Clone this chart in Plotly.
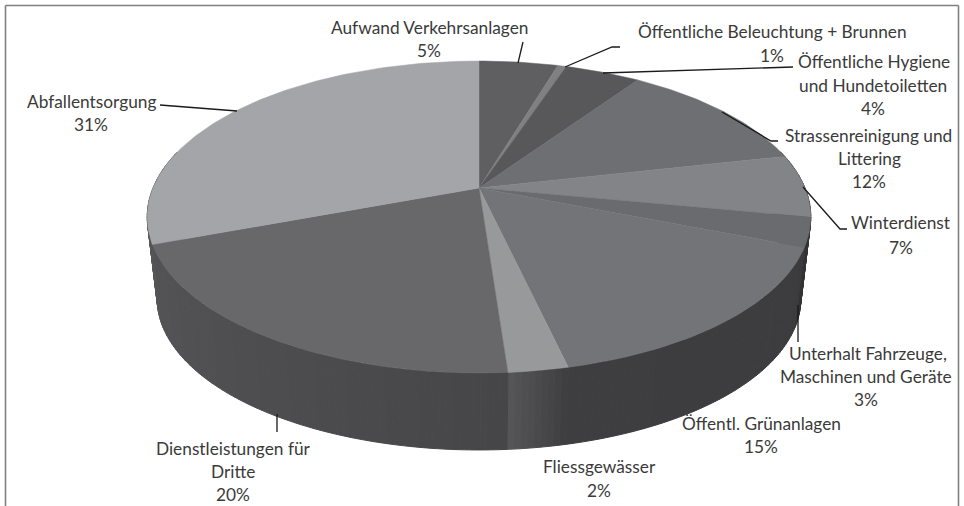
import numpy as np
import plotly.graph_objects as go

categories = ["Aufwand Verkehrsanlagen", "Öffentliche Beleuchtung + Brunnen",
              "Öffentliche Hygiene und Hundetoiletten", "Strassenreinigung und Littering",
              "Winterdienst", "Unterhalt Fahrzeuge, Maschinen und Geräte",
              "Öffentl. Grünanlagen", "Fliessgewässer", "Dienstleistungen für Dritte",
              "Abfallentsorgung"]
values = [4.6, 0.5, 4.4, 12.0, 6.5, 3.0, 15.4, 2.45, 20.45, 30.7]
percent_labels = ["5%", "1%", "4%", "12%", "7%", "3%", "15%", "2%", "20%", "31%"]

top_colors = ["#5f5f62", "#808083", "#58585a", "#6e6f72", "#838487",
              "#6a6b6e", "#737477", "#98999b", "#68686b", "#a4a5a8"]
# wall grey at the start and end of each slice (clockwise)
wall_start = [60, 60, 60, 60, 58, 52, 60, 62, 70, 86]
wall_end = [60, 60, 60, 60, 58, 52, 62, 86, 84, 86]

# label text lines: (text, centre x px, centre y px)
label_lines = [
    ("Aufwand Verkehrsanlagen", 429, 27), (percent_labels[0], 429, 50),
    ("Öffentliche Beleuchtung + Brunnen", 772, 31), (percent_labels[1], 772, 55),
    ("Öffentliche Hygiene", 874, 61), ("und Hundetoiletten", 873, 85), (percent_labels[2], 873, 108),
    ("Strassenreinigung und", 868, 135), ("Littering", 869, 158), (percent_labels[3], 869, 181),
    ("Winterdienst", 901, 222), (percent_labels[4], 901, 247),
    ("Unterhalt Fahrzeuge,", 868, 353), ("Maschinen und Geräte", 866, 376), (percent_labels[5], 866, 399),
    ("Öffentl. Grünanlagen", 761, 423), (percent_labels[6], 761, 446),
    ("Fliessgewässer", 599, 466), (percent_labels[7], 599, 490),
    ("Dienstleistungen für", 233, 448), ("Dritte", 233, 471), (percent_labels[8], 233, 494),
    ("Abfallentsorgung", 91, 101), (percent_labels[9], 91, 124),
]
leaders = [
    ([523, 518], [42, 63]),
    ([620, 612, 565], [47, 47, 67]),
    ([793, 603], [67, 73]),
    ([722, 771, 778], [112, 141, 141]),
    ([803, 840, 847], [187, 229, 229]),
    ([798, 798], [305, 342]),
    ([277, 277], [414, 432]),
    ([160, 237], [105, 111]),
]

# projection of the pie disc: perspective circle
CX, CY, A, B, K = 479.0, 188.0, 326.0, 150.6, 0.186
DROP, SHRINK = 82.5, 0.97


def top_xy(theta):
    fx, fy = np.sin(theta), np.cos(theta)
    w = 1 + K * fy
    return CX + A * fx / w, CY - B * fy / w


def bottom_xy(theta):
    x, y = top_xy(theta)
    return CX + SHRINK * (x - CX), CY + DROP + SHRINK * (y - CY)


total = sum(values)
edges = np.concatenate([[0], np.cumsum(values)]) / total * 2 * np.pi
fig = go.Figure()

# side wall strips, back to front
strips = []
for i in range(len(values)):
    n = max(1, int(np.ceil((edges[i + 1] - edges[i]) / np.radians(1))))
    t = np.linspace(edges[i], edges[i + 1], n + 1)
    for j in range(n):
        mid = (t[j] + t[j + 1]) / 2
        if np.cos(mid) > 0.25:
            continue
        g = wall_start[i] + (wall_end[i] - wall_start[i]) * (j + 0.5) / n
        strips.append((top_xy(mid)[1], t[j], t[j + 1], g))
strips.sort(key=lambda s: s[0])
for _, a, b, g in strips:
    tx0, ty0 = top_xy(a); tx1, ty1 = top_xy(b)
    bx0, by0 = bottom_xy(a); bx1, by1 = bottom_xy(b)
    c = "rgb(%d,%d,%d)" % (round(g), round(g), round(g) + 2)
    fig.add_trace(go.Scatter(x=[tx0, tx1, bx1, bx0, tx0], y=[ty0, ty1, by1, by0, ty0],
                             mode="lines", fill="toself", fillcolor=c,
                             line=dict(color=c, width=1), hoverinfo="skip", showlegend=False))

# top face slices
for i, name in enumerate(categories):
    t = np.linspace(edges[i], edges[i + 1], max(2, int(np.degrees(edges[i + 1] - edges[i])) + 2))
    x, y = top_xy(t)
    fig.add_trace(go.Scatter(x=np.r_[CX, x, CX], y=np.r_[CY, y, CY], mode="lines", fill="toself",
                             fillcolor=top_colors[i], line=dict(color=top_colors[i], width=0.5),
                             name=name, text=percent_labels[i], hoverinfo="name+text", showlegend=False))

for lx, ly in leaders:
    fig.add_trace(go.Scatter(x=lx, y=ly, mode="lines", line=dict(color="#1a1a1a", width=1.3),
                             hoverinfo="skip", showlegend=False))

for txt, lx, ly in label_lines:
    fig.add_annotation(x=lx, y=ly, text=txt, showarrow=False, xanchor="center", yanchor="middle",
                       font=dict(family="Lato, Carlito, sans-serif", size=17.3, color="#3a3a3a"))

frame = dict(color="#808080", width=1.6)
fig.add_shape(type="line", x0=5.5, x1=5.5, y0=5.5, y1=506, line=frame, layer="below")
fig.add_shape(type="line", x0=958.5, x1=958.5, y0=5.5, y1=506, line=frame, layer="below")
fig.add_shape(type="line", x0=5.5, x1=958.5, y0=5.5, y1=5.5, line=frame, layer="below")

fig.update_layout(width=964, height=506, margin=dict(l=0, r=0, t=0, b=0),
                  paper_bgcolor="white", plot_bgcolor="white", showlegend=False,
                  xaxis=dict(range=[0, 964], visible=False, fixedrange=True),
                  yaxis=dict(range=[506, 0], visible=False, fixedrange=True))
fig.write_html("out.html", config={"displayModeBar": False},
               post_script="document.body.style.margin='0';document.body.style.overflow='hidden';")
